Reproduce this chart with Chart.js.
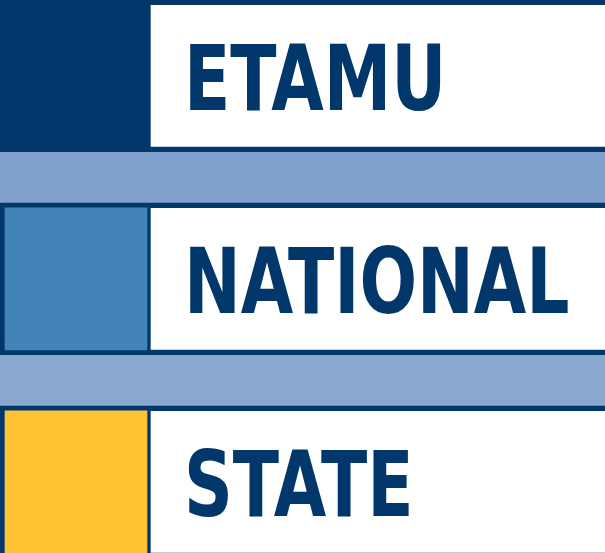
<!DOCTYPE html>
<html>
<head>
<meta charset="utf-8">
<script src="https://cdn.jsdelivr.net/npm/chart.js@4"></script>
<style>
  html, body { margin: 0; padding: 0; background: #02376B; }
  #wrap { width: 605px; height: 553px; position: relative; }
</style>
</head>
<body>
<div id="wrap"><canvas id="c"></canvas></div>
<script>
// ---- data ----
const categories = ["ETAMU", "NATIONAL", "STATE"];
const rowIndex = [0, 1, 2];
const swatchColors = ["#02376B", "#4283BA", "#FFC233"];
const bandIndex = [0.5, 1.5];
const bandColors = ["#7FA0CC", "#8AA9D1"];

const DARK = "#02376B";

const bgPlugin = {
  id: "bg",
  beforeDraw(chart) {
    const ctx = chart.ctx;
    ctx.save();
    ctx.fillStyle = DARK;
    ctx.fillRect(0, 0, chart.width, chart.height);
    ctx.restore();
  }
};

const labelPlugin = {
  id: "rowLabels",
  afterDatasetsDraw(chart) {
    const ctx = chart.ctx;
    const meta = chart.getDatasetMeta(1);
    ctx.save();
    ctx.fillStyle = DARK;
    ctx.font = "bold 91px 'DejaVu Sans'";
    ctx.textAlign = "left";
    ctx.textBaseline = "alphabetic";
    meta.data.forEach((el, i) => {
      const left = Math.min(el.x, el.base);
      ctx.save();
      ctx.translate(left + 33, el.y + 34);
      ctx.scale(0.745, 1);
      ctx.fillText(categories[i], 0, 0);
      ctx.restore();
    });
    ctx.restore();
  }
};

new Chart(document.getElementById("c"), {
  type: "bar",
  data: {
    datasets: [
      {
        label: "bands",
        data: bandIndex.map(v => ({ y: v, x: [0, 605] })),
        backgroundColor: bandColors,
        barThickness: 50,
        grouped: false,
        order: 3
      },
      {
        label: "boxes",
        data: rowIndex.map(v => ({ y: v, x: [151, 605] })),
        backgroundColor: "#FFFFFF",
        barThickness: 141,
        grouped: false,
        order: 2
      },
      {
        label: "swatches",
        data: rowIndex.map(v => ({ y: v, x: [5, 147] })),
        backgroundColor: swatchColors,
        barThickness: 142,
        grouped: false,
        order: 1
      }
    ]
  },
  options: {
    indexAxis: "y",
    responsive: true,
    maintainAspectRatio: false,
    animation: false,
    events: [],
    layout: { padding: 0 },
    plugins: { legend: { display: false }, tooltip: { enabled: false } },
    scales: {
      x: { type: "linear", min: 0, max: 605, display: false, offset: false, bounds: "data", grace: 0 },
      y: { type: "linear", min: -0.374, max: 2.35, reverse: true, display: false, offset: false, bounds: "data", grace: 0 }
    }
  },
  plugins: [bgPlugin, labelPlugin]
});
</script>
</body>
</html>
